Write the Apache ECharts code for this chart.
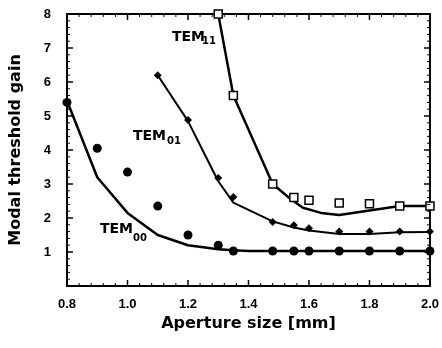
<!DOCTYPE html>
<html>
<head>
<meta charset="utf-8">
<script src="https://cdn.jsdelivr.net/npm/echarts@6/dist/echarts.min.js"></script>
<style>
  html, body { margin: 0; padding: 0; background: #fff; }
  #chart { width: 442px; height: 348px; }
</style>
</head>
<body>
<div id="chart"></div>
<script>
// Axis ticks
const xTicks = [0.8, 1.0, 1.2, 1.4, 1.6, 1.8, 2.0];
const yTicks = [0, 1, 2, 3, 4, 5, 6, 7, 8];
const yTickLabels = ['', '1', '2', '3', '4', '5', '6', '7', '8'];

// TEM00: measured points and calculated curve
const tem00PointsX = [0.8, 0.9, 1.0, 1.1, 1.2, 1.3, 1.35, 1.48, 1.55, 1.6, 1.7, 1.8, 1.9, 2.0];
const tem00PointsY = [5.4, 4.05, 3.35, 2.35, 1.5, 1.2, 1.03, 1.03, 1.03, 1.03, 1.03, 1.03, 1.03, 1.03];
const tem00CurveX = [0.8, 0.9, 1.0, 1.1, 1.2, 1.3, 1.35, 1.4, 1.5, 1.6, 1.7, 1.8, 1.9, 2.0];
const tem00CurveY = [5.45, 3.2, 2.15, 1.5, 1.2, 1.08, 1.05, 1.03, 1.03, 1.03, 1.03, 1.03, 1.03, 1.03];

// TEM01
const tem01PointsX = [1.1, 1.2, 1.3, 1.35, 1.48, 1.55, 1.6, 1.7, 1.8, 1.9, 2.0];
const tem01PointsY = [6.2, 4.88, 3.18, 2.62, 1.88, 1.79, 1.7, 1.6, 1.6, 1.6, 1.6];
const tem01CurveX = [1.1, 1.2, 1.3, 1.35, 1.4, 1.48, 1.55, 1.6, 1.7, 1.8, 1.9, 2.0];
const tem01CurveY = [6.2, 4.85, 3.08, 2.45, 2.24, 1.9, 1.72, 1.63, 1.53, 1.53, 1.58, 1.59];

// TEM11
const tem11PointsX = [1.3, 1.35, 1.48, 1.55, 1.6, 1.7, 1.8, 1.9, 2.0];
const tem11PointsY = [8.0, 5.6, 3.0, 2.6, 2.52, 2.44, 2.42, 2.35, 2.35];
const tem11CurveX = [1.3, 1.35, 1.48, 1.54, 1.58, 1.64, 1.7, 1.8, 1.9, 2.0];
const tem11CurveY = [8.0, 5.6, 3.0, 2.55, 2.3, 2.15, 2.09, 2.22, 2.35, 2.35];

const zip = (xs, ys) => xs.map((x, i) => [x, ys[i]]);

const titleFont = 'DejaVu Sans';
const tickFont = 'Liberation Sans';
const X_MIN = 0.8, X_MAX = 2.0, Y_MIN = 0, Y_MAX = 8;
const MINOR_DIV = 5;       // minor subdivisions per major step
const MAJOR_LEN = 6, MINOR_LEN = 3;

const chart = echarts.init(document.getElementById('chart'), null, { renderer: 'canvas' });

const curve = (xs, ys, w) => ({
  type: 'line',
  data: zip(xs, ys),
  showSymbol: false,
  symbol: 'none',
  lineStyle: { color: '#000', width: w },
  z: 2,
  silent: true
});

const points = (xs, ys, symbol, size, fill, border) => ({
  type: 'scatter',
  data: zip(xs, ys),
  symbol: symbol,
  symbolSize: size,
  itemStyle: { color: fill, borderColor: '#000', borderWidth: border, opacity: 1 },
  z: 3,
  silent: true
});

const tickLine = (x1, y1, x2, y2, w) => ({
  type: 'line',
  shape: { x1, y1, x2, y2 },
  style: { stroke: '#000', lineWidth: w }
});

// Inward ticks on the bottom and top edges, positioned through the x scale
function renderXTicks(params, api) {
  const v = api.value(0);
  const step = xTicks.length > 1 ? xTicks[1] - xTicks[0] : 0.2;
  const children = [];
  const add = (val, len, w) => {
    const b = api.coord([val, Y_MIN]);
    const t = api.coord([val, Y_MAX]);
    children.push(tickLine(b[0], b[1], b[0], b[1] - len, w));
    children.push(tickLine(t[0], t[1], t[0], t[1] + len, w));
  };
  add(v, MAJOR_LEN, 1.5);
  for (let k = 1; k < MINOR_DIV; k++) {
    const m = v + (step * k) / MINOR_DIV;
    if (m < X_MAX - 1e-9) add(m, MINOR_LEN, 1);
  }
  return { type: 'group', children };
}

// Inward ticks on the left and right edges, positioned through the y scale
function renderYTicks(params, api) {
  const v = api.value(1);
  const step = 1;
  const children = [];
  const add = (val, len, w) => {
    const l = api.coord([X_MIN, val]);
    const r = api.coord([X_MAX, val]);
    children.push(tickLine(l[0], l[1], l[0] + len, l[1], w));
    children.push(tickLine(r[0], r[1], r[0] - len, r[1], w));
  };
  add(v, MAJOR_LEN, 1.5);
  for (let k = 1; k < MINOR_DIV; k++) {
    const m = v + (step * k) / MINOR_DIV;
    if (m < Y_MAX - 1e-9) add(m, MINOR_LEN, 1);
  }
  return { type: 'group', children };
}

chart.setOption({
  animation: false,
  backgroundColor: '#fff',
  grid: {
    left: 63, right: 12, top: 14, bottom: 62,
    show: true, borderColor: '#000', borderWidth: 2, backgroundColor: 'transparent'
  },
  xAxis: {
    type: 'value', min: X_MIN, max: X_MAX, interval: 0.2,
    axisLine: { show: true, onZero: false, lineStyle: { color: '#000', width: 2 } },
    axisTick: { show: false }, minorTick: { show: false },
    splitLine: { show: false },
    axisLabel: {
      margin: 12, color: '#000', fontFamily: tickFont, fontWeight: 'bold', fontSize: 13,
      formatter: v => {
        const t = xTicks.find(k => Math.abs(k - v) < 1e-6);
        return t === undefined ? '' : t.toFixed(1);
      }
    },
    name: 'Aperture size [mm]', nameLocation: 'middle', nameGap: 28,
    nameTextStyle: { color: '#000', fontFamily: titleFont, fontWeight: 'bold', fontSize: 16 }
  },
  yAxis: {
    type: 'value', min: Y_MIN, max: Y_MAX, interval: 1,
    axisLine: { show: true, onZero: false, lineStyle: { color: '#000', width: 2 } },
    axisTick: { show: false }, minorTick: { show: false },
    splitLine: { show: false },
    axisLabel: {
      margin: 16, color: '#000', fontFamily: tickFont, fontWeight: 'bold', fontSize: 13,
      formatter: v => {
        const i = yTicks.indexOf(v);
        return i >= 0 ? yTickLabels[i] : '';
      }
    },
    name: 'Modal threshold gain', nameLocation: 'middle', nameGap: 43,
    nameTextStyle: { color: '#000', fontFamily: titleFont, fontWeight: 'bold', fontSize: 16 }
  },
  series: [
    {
      type: 'custom', name: 'x ticks', renderItem: renderXTicks,
      data: xTicks.map(v => [v, Y_MIN]), clip: false, silent: true, z: 4
    },
    {
      type: 'custom', name: 'y ticks', renderItem: renderYTicks,
      data: yTicks.map(v => [X_MIN, v]), clip: false, silent: true, z: 4
    },
    curve(tem00CurveX, tem00CurveY, 2.5),
    curve(tem01CurveX, tem01CurveY, 2),
    curve(tem11CurveX, tem11CurveY, 2.5),
    points(tem00PointsX, tem00PointsY, 'circle', 9, '#000', 0),
    points(tem01PointsX, tem01PointsY, 'diamond', 8, '#000', 0),
    points(tem11PointsX, tem11PointsY, 'rect', 8, '#fff', 1.5)
  ],
  graphic: [
    { type: 'text', x: 172, y: 37.5, style: { text: 'TEM', font: 'bold 14px "DejaVu Sans"', fill: '#000', verticalAlign: 'middle' } },
    { type: 'text', x: 202, y: 41, style: { text: '11', font: 'bold 10px "DejaVu Sans"', fill: '#000', verticalAlign: 'middle' } },
    { type: 'text', x: 133, y: 136, style: { text: 'TEM', font: 'bold 14px "DejaVu Sans"', fill: '#000', verticalAlign: 'middle' } },
    { type: 'text', x: 167, y: 141, style: { text: '01', font: 'bold 10px "DejaVu Sans"', fill: '#000', verticalAlign: 'middle' } },
    { type: 'text', x: 100, y: 229.5, style: { text: 'TEM', font: 'bold 14px "DejaVu Sans"', fill: '#000', verticalAlign: 'middle' } },
    { type: 'text', x: 133, y: 238, style: { text: '00', font: 'bold 10px "DejaVu Sans"', fill: '#000', verticalAlign: 'middle' } }
  ]
});
</script>
</body>
</html>
